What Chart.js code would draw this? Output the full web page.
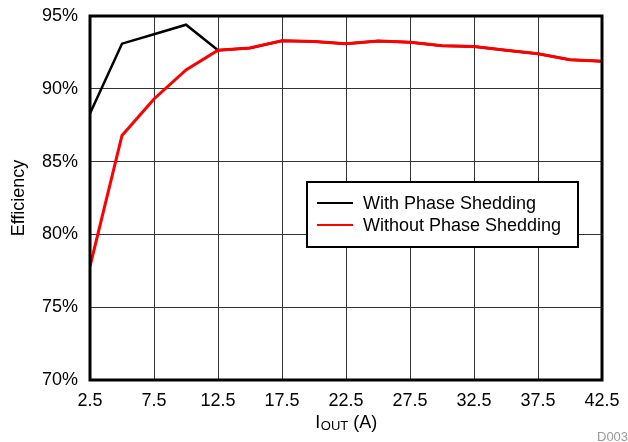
<!DOCTYPE html>
<html>
<head>
<meta charset="utf-8">
<script src="https://cdn.jsdelivr.net/npm/chart.js@4"></script>
<style>
html,body{margin:0;padding:0;background:#fff;}
#wrap{width:628px;height:442px;position:relative;}
</style>
</head>
<body>
<div id="wrap"><canvas id="c" width="628" height="442"></canvas></div>
<script>
const currents = [2.5, 5, 7.5, 10, 12.5, 15, 17.5, 20, 22.5, 25, 27.5, 30, 32.5, 35, 37.5, 40, 42.5];
const withShedding = [88.3, 93.1, 93.75, 94.4, 92.65, 92.8, 93.3, 93.25, 93.1, 93.28, 93.2, 92.95, 92.9, 92.65, 92.4, 92.0, 91.9];
const withoutShedding = [77.8, 86.8, 89.3, 91.3, 92.65, 92.8, 93.3, 93.25, 93.1, 93.28, 93.2, 92.95, 92.9, 92.65, 92.4, 92.0, 91.9];
const xTicks = [2.5, 7.5, 12.5, 17.5, 22.5, 27.5, 32.5, 37.5, 42.5];
const yTicks = [70, 75, 80, 85, 90, 95];
const seriesNames = ['With Phase Shedding', 'Without Phase Shedding'];
const seriesColors = ['#000000', '#ff0000'];

const FONT = 'Liberation Sans, Arial, sans-serif';
const FS = 18;

const toXY = arr => currents.map((x, i) => ({x: x, y: arr[i]}));

const decor = {
  id: 'decor',
  afterDatasetsDraw(chart) {
    const ctx = chart.ctx, a = chart.chartArea;
    ctx.save();
    ctx.strokeStyle = '#000';
    ctx.lineWidth = 3;
    ctx.strokeRect(a.left, a.top, a.right - a.left, a.bottom - a.top);
    // legend
    const bx = 307, by = 182, bw = 271, bh = 65;
    ctx.fillStyle = '#fff';
    ctx.fillRect(bx, by, bw, bh);
    ctx.lineWidth = 2;
    ctx.strokeStyle = '#000';
    ctx.strokeRect(bx, by, bw, bh);
    ctx.font = FS + 'px ' + FONT;
    ctx.textBaseline = 'middle';
    ctx.textAlign = 'left';
    chart.data.datasets.forEach((ds, i) => {
      const y = 203 + i * 22;
      ctx.strokeStyle = ds.borderColor;
      ctx.lineWidth = 2;
      ctx.beginPath(); ctx.moveTo(317, y); ctx.lineTo(353, y); ctx.stroke();
      ctx.fillStyle = '#000';
      ctx.fillText(ds.label, 363, y + 1);
    });
    // x title with subscript
    const cx = (a.left + a.right) / 2;
    const ty = 428;
    const SUB = 13;
    ctx.font = FS + 'px ' + FONT;
    const wI = ctx.measureText('I').width;
    const wA = ctx.measureText(' (A)').width;
    ctx.font = SUB + 'px ' + FONT;
    const wO = ctx.measureText('OUT').width;
    let x0 = cx - (wI + wO + wA) / 2;
    ctx.textBaseline = 'alphabetic';
    ctx.fillStyle = '#000';
    ctx.font = FS + 'px ' + FONT;
    ctx.fillText('I', x0, ty);
    ctx.font = SUB + 'px ' + FONT;
    ctx.fillText('OUT', x0 + wI + 0.5, ty + 2);
    ctx.font = FS + 'px ' + FONT;
    ctx.fillText(' (A)', x0 + wI + wO + 0.5, ty);
    // footer id
    ctx.font = '13px ' + FONT;
    ctx.fillStyle = '#999';
    ctx.fillText('D003', 597, 441);
    ctx.restore();
  }
};

new Chart(document.getElementById('c'), {
  type: 'line',
  data: {
    datasets: [
      {label: seriesNames[0], data: toXY(withShedding), borderColor: seriesColors[0], borderWidth: 2.5, pointRadius: 0, tension: 0, fill: false, order: 2},
      {label: seriesNames[1], data: toXY(withoutShedding), borderColor: seriesColors[1], borderWidth: 3, pointRadius: 0, tension: 0, fill: false, order: 1}
    ]
  },
  options: {
    responsive: false,
    animation: false,
    layout: {padding: {top: 16, right: 26, left: 0, bottom: 0}},
    plugins: {legend: {display: false}, tooltip: {enabled: false}},
    scales: {
      x: {
        type: 'linear', min: 2.5, max: 42.5,
        afterBuildTicks: s => { s.ticks = xTicks.map(v => ({value: v})); },
        afterFit: s => { s.height = 62; s.paddingLeft = 0; s.paddingRight = 0; },
        ticks: {color: '#000', font: {family: FONT, size: FS}, padding: 10, maxRotation: 0, autoSkip: false, callback: v => v.toFixed(1)},
        grid: {color: '#333', lineWidth: 1, drawTicks: false},
        border: {display: false}
      },
      y: {
        min: 70, max: 95,
        afterBuildTicks: s => { s.ticks = yTicks.map(v => ({value: v})); },
        afterFit: s => { s.width = 90; s.paddingTop = 0; s.paddingBottom = 0; },
        ticks: {color: '#000', font: {family: FONT, size: FS}, padding: 12, callback: v => v + '%'},
        grid: {color: '#333', lineWidth: 1, drawTicks: false},
        border: {display: false},
        title: {display: true, text: 'Efficiency', color: '#000', font: {family: FONT, size: FS}, padding: {top: 8, bottom: 4}}
      }
    }
  },
  plugins: [decor]
});
</script>
</body>
</html>
